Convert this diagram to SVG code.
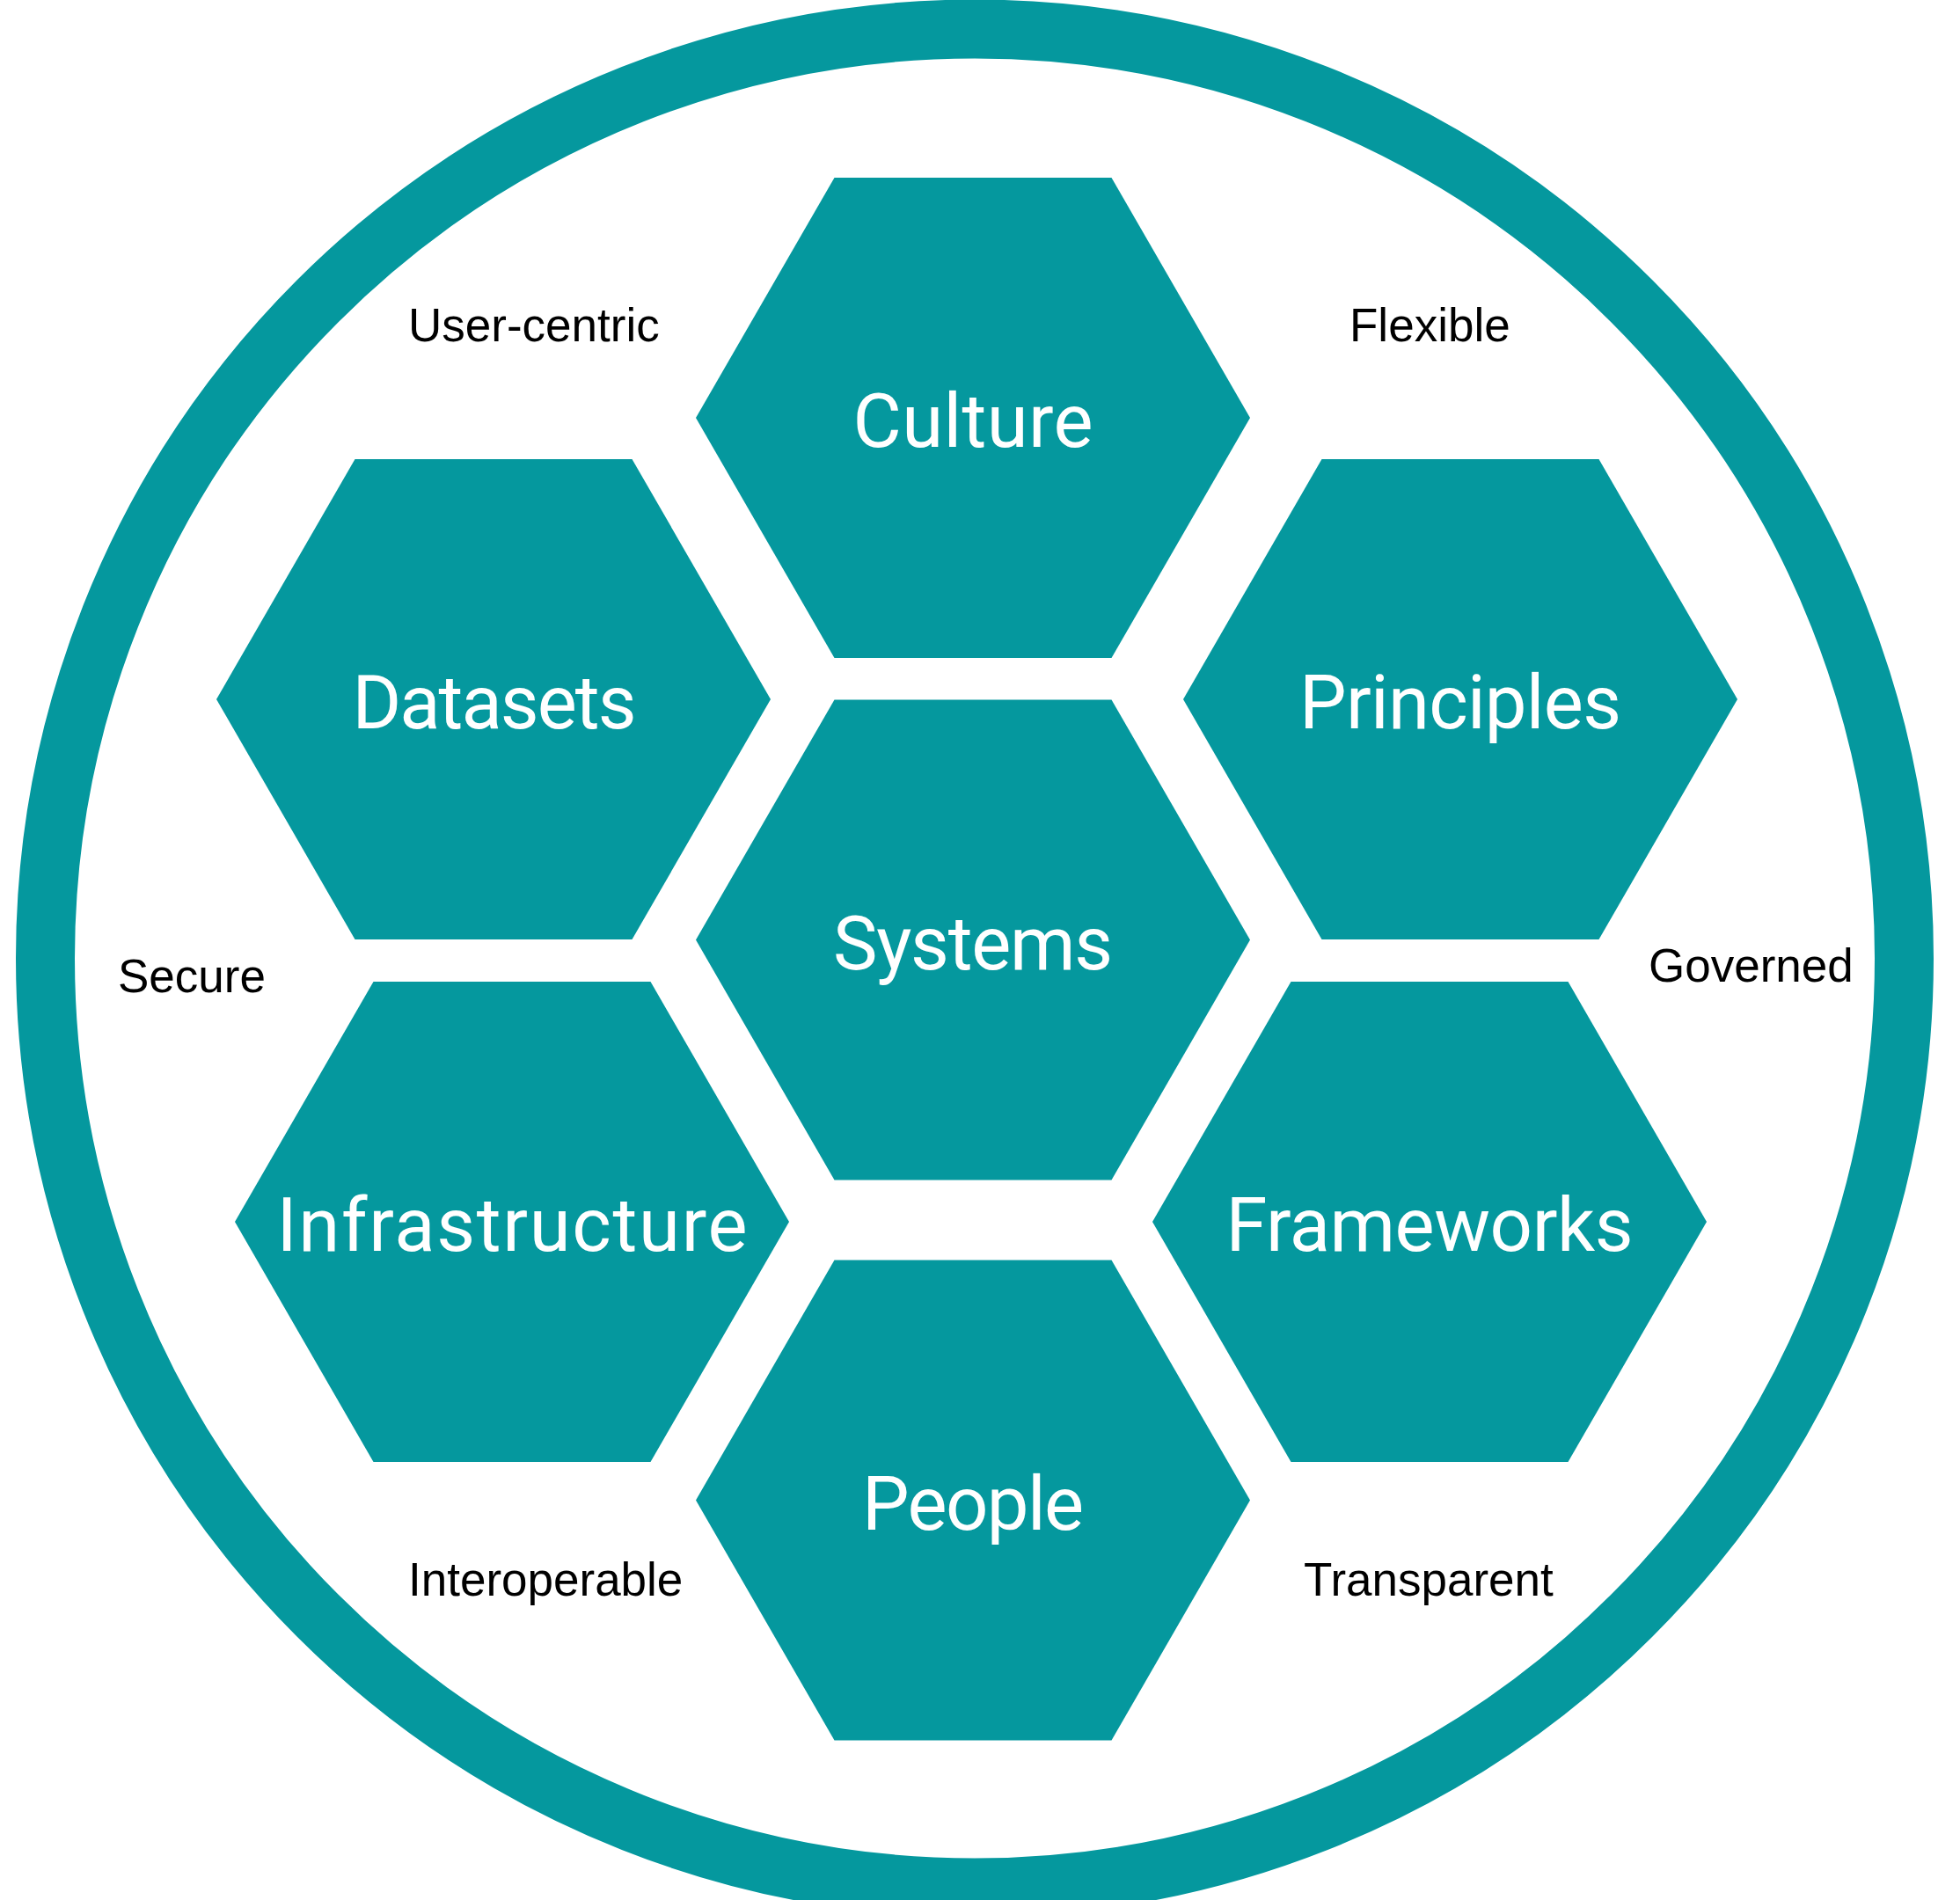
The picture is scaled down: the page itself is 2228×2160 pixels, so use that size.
<svg xmlns="http://www.w3.org/2000/svg" xmlns:xlink="http://www.w3.org/1999/xlink" width="2228" height="2160" viewBox="0 0 2228 2160">
  <style>
    .hex { fill: #05989e; }
    .hl { font-family: Roboto, "Noto Sans", sans-serif; font-size: 85px; fill: #ffffff; text-anchor: middle; }
    .lbl { font-family: "Liberation Sans", Arial, sans-serif; font-size: 53px; fill: #000000; }
  </style>
  <defs>
    <polygon id="hex" points="-315,0 -157.5,-273 157.5,-273 315,0 157.5,273 -157.5,273"/>
  </defs>
  <rect x="0" y="0" width="2228" height="2160" fill="#ffffff"/>
  <g id="ring">
    <circle cx="1108" cy="1089.5" r="1056.5" fill="none" stroke="#05989e" stroke-width="67"/>
  </g>
  <g id="connectors"></g>
  <g id="culture">
    <use href="#hex" class="hex" x="1106" y="475"/>
    <text class="hl" x="1106" y="508" textLength="273">Culture</text>
  </g>
  <g id="datasets">
    <use href="#hex" class="hex" x="561" y="795"/>
    <text class="hl" x="562" y="828" textLength="323">Datasets</text>
  </g>
  <g id="principles">
    <use href="#hex" class="hex" x="1660" y="795"/>
    <text class="hl" x="1660" y="828" textLength="366">Principles</text>
  </g>
  <g id="systems">
    <use href="#hex" class="hex" x="1106" y="1068.5"/>
    <text class="hl" x="1106" y="1101.5" textLength="318">Systems</text>
  </g>
  <g id="infrastructure">
    <use href="#hex" class="hex" x="582" y="1389"/>
    <text class="hl" x="582" y="1422" textLength="535">Infrastructure</text>
  </g>
  <g id="frameworks">
    <use href="#hex" class="hex" x="1625" y="1389"/>
    <text class="hl" x="1625" y="1422" textLength="463">Frameworks</text>
  </g>
  <g id="people">
    <use href="#hex" class="hex" x="1106" y="1705.5"/>
    <text class="hl" x="1106" y="1738.5" textLength="252">People</text>
  </g>
  <g id="labels">
    <text class="lbl" x="464" y="388">User-centric</text>
    <text class="lbl" x="1534" y="388">Flexible</text>
    <text class="lbl" x="134" y="1128">Secure</text>
    <text class="lbl" x="1874" y="1116">Governed</text>
    <text class="lbl" x="464" y="1814">Interoperable</text>
    <text class="lbl" x="1482" y="1814">Transparent</text>
  </g>
</svg>
